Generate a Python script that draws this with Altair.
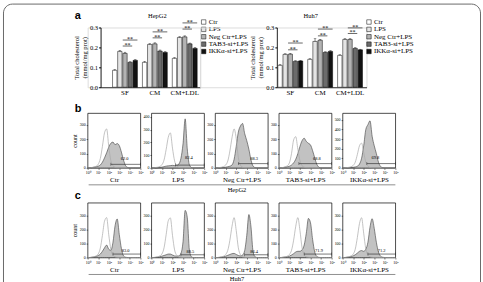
import altair as alt
import pandas as pd

SERIF = "Liberation Serif"
SANS = "Liberation Sans"

# ---------------- panel a : bar charts ----------------
SERIES = ["Ctr", "LPS", "Neg Ctr+LPS", "TAB3-si+LPS", "IKKα-si+LPS"]
GROUPS = ["SF", "CM", "CM+LDL"]
BAR_COLORS = ["#ffffff", "#e4e4e4", "#b3b3b3", "#6b6b6b", "#121212"]

HEPG2_SF = [0.085, 0.180, 0.170, 0.125, 0.135]
HEPG2_CM = [0.125, 0.215, 0.218, 0.182, 0.175]
HEPG2_LDL = [0.145, 0.250, 0.253, 0.218, 0.195]
HEPG2_ERR_SF = [0.004, 0.005, 0.006, 0.003, 0.004]
HEPG2_ERR_CM = [0.005, 0.004, 0.005, 0.005, 0.004]
HEPG2_ERR_LDL = [0.004, 0.004, 0.005, 0.004, 0.005]
HEPG2_STAR_LOW = [0.207, 0.248, 0.292]
HEPG2_STAR_HIGH = [0.237, 0.278, 0.323]

HUH7_SF = [0.110, 0.165, 0.166, 0.130, 0.132]
HUH7_CM = [0.140, 0.230, 0.236, 0.175, 0.180]
HUH7_LDL = [0.160, 0.240, 0.240, 0.195, 0.188]
HUH7_ERR_SF = [0.004, 0.003, 0.004, 0.003, 0.003]
HUH7_ERR_CM = [0.003, 0.014, 0.005, 0.003, 0.004]
HUH7_ERR_LDL = [0.003, 0.004, 0.004, 0.004, 0.003]
HUH7_STAR_LOW = [0.188, 0.258, 0.270]
HUH7_STAR_HIGH = [0.222, 0.292, 0.298]

# ---------------- panels b, c : flow histograms ----------------
LOG_GRID = [0.0, 0.2, 0.4, 0.6, 0.8, 1.0, 1.2, 1.4, 1.6, 1.8, 2.0, 2.2, 2.4,
            2.6, 2.8, 3.0, 3.2, 3.4, 3.6, 3.8, 4.0, 4.2, 4.4, 4.6, 4.8, 5.0]
PANEL_NAMES = ["Ctr", "LPS", "Neg Ctr+LPS", "TAB3-si+LPS", "IKKα-si+LPS"]

B_CTR_OPEN = [0, 0, 3, 6, 12, 25, 65, 150, 245, 272, 150, 50, 15, 4, 1, 0, 0, 0, 0, 0, 0, 0, 0, 0, 0, 0]
B_CTR_FILL = [0, 0, 2, 5, 8, 12, 20, 40, 70, 105, 145, 172, 180, 162, 170, 155, 110, 55, 15, 3, 0, 0, 0, 0, 0, 0]
B_LPS_OPEN = [0, 0, 3, 6, 12, 25, 62, 145, 240, 275, 155, 55, 16, 5, 1, 0, 0, 0, 0, 0, 0, 0, 0, 0, 0, 0]
B_LPS_FILL = [0, 0, 0, 2, 4, 6, 10, 14, 16, 18, 20, 18, 20, 30, 75, 190, 385, 150, 25, 3, 0, 0, 0, 0, 0, 0]
B_NEG_OPEN = [0, 0, 2, 5, 10, 20, 48, 118, 210, 272, 205, 72, 20, 5, 1, 0, 0, 0, 0, 0, 0, 0, 0, 0, 0, 0]
B_NEG_FILL = [0, 0, 0, 2, 3, 5, 8, 12, 20, 60, 150, 250, 292, 310, 240, 190, 130, 55, 12, 2, 0, 0, 0, 0, 0, 0]
B_TAB3_OPEN = [0, 0, 3, 8, 15, 35, 100, 195, 218, 130, 50, 15, 5, 1, 0, 0, 0, 0, 0, 0, 0, 0, 0, 0, 0, 0]
B_TAB3_FILL = [0, 0, 2, 5, 8, 12, 20, 35, 60, 100, 150, 190, 207, 185, 172, 160, 120, 70, 25, 5, 0, 0, 0, 0, 0, 0]
B_IKK_OPEN = [0, 0, 3, 6, 12, 25, 60, 140, 230, 258, 160, 60, 18, 5, 1, 0, 0, 0, 0, 0, 0, 0, 0, 0, 0, 0]
B_IKK_FILL = [0, 0, 0, 2, 4, 6, 10, 18, 40, 100, 230, 400, 450, 490, 330, 230, 150, 60, 15, 3, 0, 0, 0, 0, 0, 0]
B_YMAX = [382, 430, 382, 382, 570]
B_YTICKS = [[0, 100, 200, 300], [0, 100, 200, 300, 400], [0, 100, 200, 300],
            [0, 100, 200, 300], [0, 100, 200, 300, 400, 500]]
B_GATE_START = [2.2, 2.3, 2.2, 1.9, 2.3]
B_GATE_Y = [25, 22, 30, 30, 45]
B_PCT = ["62.0", "82.4", "88.3", "68.8", "69.8"]
B_PCT_X = [3.5, 3.55, 3.7, 3.6, 3.1]
B_PCT_Y = [65, 75, 62, 62, 100]

C_CTR_OPEN = [0, 0, 3, 6, 12, 25, 68, 160, 262, 288, 165, 58, 17, 5, 1, 0, 0, 0, 0, 0, 0, 0, 0, 0, 0, 0]
C_CTR_FILL = [0, 0, 2, 4, 8, 14, 25, 45, 70, 90, 60, 52, 110, 230, 278, 165, 65, 12, 2, 0, 0, 0, 0, 0, 0, 0]
C_LPS_OPEN = [0, 0, 3, 6, 12, 26, 70, 165, 265, 286, 160, 55, 16, 4, 1, 0, 0, 0, 0, 0, 0, 0, 0, 0, 0, 0]
C_LPS_FILL = [0, 0, 1, 3, 6, 10, 15, 20, 25, 25, 18, 12, 10, 12, 30, 115, 340, 290, 55, 5, 0, 0, 0, 0, 0, 0]
C_NEG_OPEN = [0, 0, 2, 5, 10, 22, 52, 125, 225, 288, 195, 70, 20, 5, 1, 0, 0, 0, 0, 0, 0, 0, 0, 0, 0, 0]
C_NEG_FILL = [0, 0, 1, 3, 6, 10, 16, 22, 28, 30, 22, 15, 12, 18, 50, 160, 310, 220, 40, 5, 0, 0, 0, 0, 0, 0]
C_TAB3_OPEN = [0, 0, 2, 5, 10, 22, 52, 125, 225, 288, 195, 70, 20, 5, 1, 0, 0, 0, 0, 0, 0, 0, 0, 0, 0, 0]
C_TAB3_FILL = [0, 0, 2, 4, 6, 10, 18, 28, 40, 45, 45, 55, 90, 175, 282, 250, 130, 40, 8, 1, 0, 0, 0, 0, 0, 0]
C_IKK_OPEN = [0, 0, 3, 6, 12, 24, 60, 145, 245, 287, 175, 62, 18, 5, 1, 0, 0, 0, 0, 0, 0, 0, 0, 0, 0, 0]
C_IKK_FILL = [0, 0, 2, 4, 7, 12, 20, 32, 45, 50, 45, 60, 110, 220, 280, 210, 110, 40, 10, 2, 0, 0, 0, 0, 0, 0]
C_YMAX = [395, 395, 395, 395, 395]
C_YTICKS = [[0, 100, 200, 300]] * 5
C_GATE_START = [2.4, 2.8, 2.8, 2.4, 2.4]
C_GATE_Y = [25, 20, 20, 25, 25]
C_PCT = ["83.0", "88.5", "86.4", "71.9", "71.2"]
C_PCT_X = [3.6, 3.7, 3.7, 3.8, 3.7]
C_PCT_Y = [45, 42, 42, 45, 45]

ONE = pd.DataFrame({"k": [0]})
SUP_EXPR = "'10' + ['\u2070','\u00b9','\u00b2','\u00b3','\u2074','\u2075'][datum.value]"


def bar_panel(title, vals, errs, low, high, width, pad_outer, align, title_x, legend_x):
    rows = []
    for g, vs, es in zip(GROUPS, vals, errs):
        for s, v, e in zip(SERIES, vs, es):
            rows.append({"group": g, "series": s, "value": v, "top": v + e})
    df = pd.DataFrame(rows)
    br = pd.DataFrame({"group": GROUPS, "low": low, "high": high})

    xs = alt.Scale(domain=GROUPS, paddingInner=1 / 6, paddingOuter=pad_outer, align=align)
    xaxis = alt.Axis(title=None, labelAngle=0, labelFont=SERIF, labelFontSize=7,
                     labelPadding=1.5, ticks=False, domainColor="black", domainWidth=0.8,
                     labelColor="black")
    ys = alt.Scale(domain=[0, 0.3], nice=False)
    yaxis = alt.Axis(values=[0, 0.1, 0.2, 0.3], format=".1f",
                     title=["Total cholesterol", "(mmol/mg prot)"], titleFont=SERIF,
                     titleFontSize=6.5, titleFontWeight="normal", titlePadding=2,
                     titleColor="black", labelFont=SERIF, labelFontSize=6.5, labelPadding=1,
                     labelColor="black", tickSize=2, tickColor="black", domainColor="black",
                     domainWidth=0.8, grid=False)
    xo = alt.XOffset("series:N", scale=alt.Scale(domain=SERIES, paddingInner=0.15))

    def X(bp=None):
        if bp is None:
            return alt.X("group:N", scale=xs, axis=xaxis, sort=GROUPS)
        return alt.X("group:N", scale=xs, axis=xaxis, sort=GROUPS, bandPosition=bp)

    def Y(f):
        return alt.Y(f + ":Q", scale=ys, axis=yaxis)

    bars = alt.Chart(df).mark_bar(stroke="black", strokeWidth=0.5).encode(
        x=X(), xOffset=xo, y=Y("value"),
        color=alt.Color("series:N", scale=alt.Scale(domain=SERIES, range=BAR_COLORS),
                        legend=alt.Legend(orient="none", legendX=legend_x, legendY=-9,
                                          title=None, symbolType="square", symbolSize=20,
                                          symbolStrokeColor="black", symbolStrokeWidth=0.5,
                                          labelFont=SERIF, labelFontSize=7, labelColor="black",
                                          labelOffset=1.5, rowPadding=-0.6, padding=0,
                                          labelLimit=200)))
    err = alt.Chart(df).mark_rule(color="black", strokeWidth=0.5).encode(
        x=X(), xOffset=xo, y=Y("value"), y2="top:Q")
    cap = alt.Chart(df).mark_tick(orient="horizontal", size=2.5, thickness=0.5,
                                  color="black").encode(x=X(), xOffset=xo, y=Y("top"))
    lines = []
    for col, b0, b1 in (("low", 0.41, 0.79), ("high", 0.41, 1.0)):
        lines.append(alt.Chart(br).mark_rule(color="black", strokeWidth=0.6).encode(
            x=X(b0), x2=alt.X2(field="group", bandPosition=b1), y=Y(col)))
        lines.append(alt.Chart(br).mark_text(text="**", font=SERIF, fontSize=6,
                                             baseline="alphabetic", dy=0.8,
                                             color="black").encode(
            x=X((b0 + b1) / 2), y=Y(col)))
    head = alt.Chart(ONE).mark_text(text=title, font=SERIF, fontSize=6.5, color="black",
                                    baseline="alphabetic").encode(
        x=alt.value(title_x), y=alt.value(-10))
    return alt.layer(bars, err, cap, *lines, head).properties(width=width, height=60)


def hist_panel(open_vals, fill_vals, ymax, yticks, g_start, g_y, pct, pct_x, pct_y,
               name, ytitle, extras):
    df = pd.DataFrame({"logx": LOG_GRID, "open": open_vals, "fill": fill_vals})
    xs = alt.Scale(domain=[0, 5], nice=False, zero=False)
    ys = alt.Scale(domain=[0, ymax], nice=False)
    xaxis = alt.Axis(values=[0, 1, 2, 3, 4, 5], labelExpr=SUP_EXPR, title=name,
                     titleFont=SERIF, titleFontSize=7, titleFontWeight="normal",
                     titlePadding=1.5, titleColor="black", labelFont=SERIF, labelFontSize=4,
                     labelPadding=1, labelColor="black", tickSize=1.5, tickColor="black",
                     tickWidth=0.5, grid=False, domain=False, labelFlush=False)
    ykw = dict(values=yticks, labelFont=SERIF, labelFontSize=4, labelPadding=1,
               labelColor="black", tickSize=1.5, tickColor="black", tickWidth=0.5,
               grid=False, domain=False)
    if ytitle:
        ykw.update(title="count", titleFont=SERIF, titleFontSize=6,
                   titleFontWeight="normal", titlePadding=2, titleColor="black")
    else:
        ykw.update(title=None)
    yaxis = alt.Axis(**ykw)

    def X(f):
        return alt.X(f + ":Q", scale=xs, axis=xaxis)

    def Y(f):
        return alt.Y(f + ":Q", scale=ys, axis=yaxis)

    area = alt.Chart(df).mark_area(interpolate="monotone", fill="#c2c2c2",
                                   stroke="#3c3c3c", strokeWidth=0.6).encode(
        x=X("logx"), y=Y("fill"))
    line = alt.Chart(df).mark_line(interpolate="monotone", color="#a9a9a9",
                                   strokeWidth=0.7).encode(x=X("logx"), y=Y("open"))
    gate = pd.DataFrame({"x0": [g_start], "x1": [5.0], "y": [g_y]})
    gate_ends = pd.DataFrame({"x": [g_start, 5.0], "y": [g_y, g_y]})
    lab = pd.DataFrame({"x": [pct_x], "y": [pct_y], "t": [pct]})
    g_rule = alt.Chart(gate).mark_rule(color="#222", strokeWidth=0.6).encode(
        x=X("x0"), x2="x1:Q", y=Y("y"))
    g_caps = alt.Chart(gate_ends).mark_tick(orient="vertical", size=3, thickness=0.6,
                                            color="#222").encode(x=X("x"), y=Y("y"))
    g_text = alt.Chart(lab).mark_text(font=SERIF, fontSize=4.5, color="black").encode(
        x=X("x"), y=Y("y"), text="t:N")
    return alt.layer(area, line, g_rule, g_caps, g_text, *extras).properties(
        width=53, height=55, view=alt.ViewBackground(stroke="black", strokeWidth=0.7))


def spacer(w, h, extras=()):
    base = alt.Chart(ONE).mark_point(opacity=0).encode(x=alt.value(0), y=alt.value(0))
    return alt.layer(base, *extras).properties(width=w, height=h)


def letter(t, x, y):
    return alt.Chart(ONE).mark_text(text=t, font=SANS, fontSize=11, fontWeight="bold",
                                    align="left", baseline="alphabetic",
                                    color="black").encode(x=alt.value(x), y=alt.value(y))


def underline(label, y_line, y_text):
    r = alt.Chart(ONE).mark_rule(color="#444", strokeWidth=0.6).encode(
        x=alt.value(-127), x2=alt.value(181), y=alt.value(y_line))
    t = alt.Chart(ONE).mark_text(text=label, font=SERIF, fontSize=6.5, color="black",
                                 baseline="middle").encode(x=alt.value(22), y=alt.value(y_text))
    return [r, t]


frame = alt.Chart(ONE).mark_rect(fillOpacity=0, stroke="#6a6a6a", strokeWidth=1,
                                 cornerRadius=9).encode(
    x=alt.value(-84.5), x2=alt.value(394.5), y=alt.value(-23.5), y2=alt.value(266))

hep = bar_panel("HepG2", [HEPG2_SF, HEPG2_CM, HEPG2_LDL],
                [HEPG2_ERR_SF, HEPG2_ERR_CM, HEPG2_ERR_LDL],
                HEPG2_STAR_LOW, HEPG2_STAR_HIGH, 100, 0.25, 0.8, 57, 100)
huh = bar_panel("Huh7", [HUH7_SF, HUH7_CM, HUH7_LDL],
                [HUH7_ERR_SF, HUH7_ERR_CM, HUH7_ERR_LDL],
                HUH7_STAR_LOW, HUH7_STAR_HIGH, 90, 1 / 12, 0.2, 34, 89)

row_a = alt.hconcat(spacer(13, 60, [frame, letter("a", -13, -9)]), hep, spacer(77, 60), huh,
                    spacing=0, bounds="flush")
row_a = row_a.resolve_scale(color="independent", xOffset="independent",
                            x="independent", y="independent").resolve_legend(color="independent")

b_open = [B_CTR_OPEN, B_LPS_OPEN, B_NEG_OPEN, B_TAB3_OPEN, B_IKK_OPEN]
b_fill = [B_CTR_FILL, B_LPS_FILL, B_NEG_FILL, B_TAB3_FILL, B_IKK_FILL]
c_open = [C_CTR_OPEN, C_LPS_OPEN, C_NEG_OPEN, C_TAB3_OPEN, C_IKK_OPEN]
c_fill = [C_CTR_FILL, C_LPS_FILL, C_NEG_FILL, C_TAB3_FILL, C_IKK_FILL]

row_b = []
for i in range(5):
    extras = []
    if i == 0:
        extras.append(letter("b", -13, -1))
    if i == 2:
        extras += underline("HepG2", 72, 77)
    row_b.append(hist_panel(b_open[i], b_fill[i], B_YMAX[i], B_YTICKS[i], B_GATE_START[i],
                            B_GATE_Y[i], B_PCT[i], B_PCT_X[i], B_PCT_Y[i], PANEL_NAMES[i],
                            i == 0, extras))

row_c = []
for i in range(5):
    extras = []
    if i == 0:
        extras.append(letter("c", -13, -4))
    if i == 2:
        extras += underline("Huh7", 72, 76.5)
    row_c.append(hist_panel(c_open[i], c_fill[i], C_YMAX[i], C_YTICKS[i], C_GATE_START[i],
                            C_GATE_Y[i], C_PCT[i], C_PCT_X[i], C_PCT_Y[i], PANEL_NAMES[i],
                            i == 0, extras))

rows_bc = alt.concat(*(row_b + row_c), columns=5, align="each", bounds="flush",
                     spacing={"row": 35, "column": 11})
rows_bc = rows_bc.resolve_scale(x="independent", y="independent")

chart = alt.vconcat(row_a, rows_bc, spacing=86, bounds="flush")
chart = chart.properties(padding={"left": 2, "top": 2, "right": 1, "bottom": 0},
                         background="white")
chart = chart.configure_view(stroke="transparent").configure(font=SERIF)

chart.save("out.html", embed_options={"renderer": "svg", "actions": False})
